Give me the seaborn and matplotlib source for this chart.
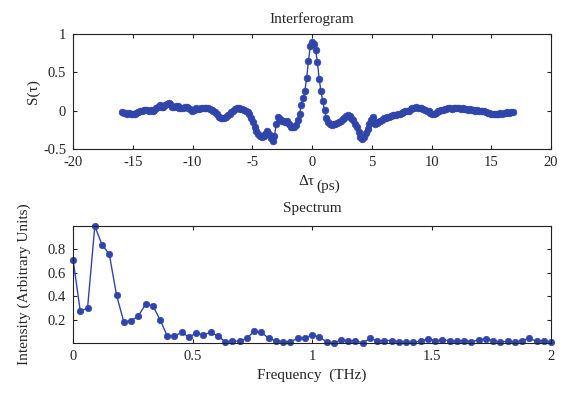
import numpy as np
import pandas as pd
import matplotlib
matplotlib.use("Agg")
import matplotlib.pyplot as plt
import seaborn as sns

# ---------------- data ----------------
delay_start_ps = -15.9
delay_step_ps = 0.15
signal = [
    # -15.9 .. -14.1
    -0.02, -0.03, -0.03, -0.04, -0.03, -0.05, -0.05, -0.04, -0.03, -0.02, -0.01, 0.00, 0.01,
    # -13.95 .. -12.15
    0.01, 0.01, 0.00, 0.01, 0.00, 0.01, 0.03, 0.05, 0.07, 0.05, 0.05, 0.07, 0.09,
    # -12.0 .. -10.2
    0.10, 0.08, 0.05, 0.05, 0.06, 0.06, 0.04, 0.03, 0.04, 0.05, 0.05, 0.04, 0.02,
    # -10.05 .. -8.25
    0.00, 0.01, 0.03, 0.02, 0.02, 0.03, 0.04, 0.04, 0.04, 0.03, 0.02, 0.01, 0.00,
    # -8.1 .. -6.3
    -0.02, -0.05, -0.08, -0.10, -0.10, -0.09, -0.08, -0.06, -0.04, -0.02, 0.00, 0.02, 0.03,
    # -6.15 .. -4.35
    0.03, 0.02, 0.02, 0.01, 0.00, -0.02, -0.04, -0.09, -0.15, -0.22, -0.27, -0.30, -0.33,
    # -4.2 .. -2.4
    -0.34, -0.33, -0.31, -0.27, -0.30, -0.36, -0.40, -0.33, -0.18, -0.08, -0.11, -0.14, -0.13,
    # -2.25 .. -0.45
    -0.15, -0.14, -0.18, -0.21, -0.22, -0.22, -0.19, -0.12, -0.05, 0.07, 0.16, 0.26, 0.43,
    # -0.3, -0.15, 0.0
    0.65, 0.84, 0.90,
    # 0.15 .. 1.95
    0.87, 0.79, 0.63, 0.41, 0.25, 0.12, 0.01, -0.10, -0.15, -0.18, -0.19, -0.18, -0.17,
    # 2.1 .. 3.9
    -0.16, -0.15, -0.13, -0.11, -0.09, -0.07, -0.06, -0.07, -0.09, -0.12, -0.17, -0.22, -0.28,
    # 4.05 .. 5.85
    -0.34, -0.37, -0.34, -0.29, -0.24, -0.18, -0.12, -0.08, -0.17, -0.16, -0.15, -0.14, -0.12,
    # 6.0 .. 7.8
    -0.10, -0.09, -0.08, -0.08, -0.07, -0.06, -0.06, -0.06, -0.05, -0.04, -0.03, -0.02, -0.01,
    # 7.95 .. 9.75
    -0.01, 0.00, 0.02, 0.03, 0.04, 0.05, 0.04, 0.04, 0.03, 0.02, 0.01, 0.00, -0.01,
    # 9.9 .. 11.7
    -0.03, -0.05, -0.05, -0.03, -0.01, 0.00, 0.01, 0.01, 0.02, 0.02, 0.03, 0.03, 0.02,
    # 11.85 .. 13.65
    0.03, 0.03, 0.04, 0.03, 0.02, 0.03, 0.02, 0.02, 0.01, 0.02, 0.01, 0.01, 0.00,
    # 13.8 .. 15.6
    0.01, 0.00, -0.01, 0.00, -0.01, -0.02, -0.03, -0.03, -0.04, -0.05, -0.05, -0.04, -0.04,
    # 15.75 .. 16.8
    -0.03, -0.04, -0.03, -0.03, -0.02, -0.03, -0.02, -0.02,
]
delay = np.round(delay_start_ps + delay_step_ps * np.arange(len(signal)), 2)

freq_step_thz = 1 / 33
intensity = [
    0.71, 0.27, 0.30, 1.00, 0.84, 0.76, 0.41, 0.18, 0.19, 0.23,
    0.33, 0.32, 0.20, 0.06, 0.06, 0.09, 0.05, 0.085, 0.07, 0.09,
    0.06, 0.01, 0.015, 0.015, 0.04, 0.10, 0.09, 0.04, 0.02, 0.01,
    0.01, 0.04, 0.04, 0.07, 0.05, 0.01, 0.00, 0.025, 0.02, 0.02,
    0.00, 0.04, 0.02, 0.02, 0.02, 0.01, 0.01, 0.005, 0.015, 0.035,
    0.02, 0.025, 0.02, 0.015, 0.02, 0.01, 0.025, 0.035, 0.02, 0.005,
    0.015, 0.01, 0.02, 0.04, 0.015, 0.02, 0.005,
]
freq = freq_step_thz * np.arange(len(intensity))

top_xticks = [-20, -15, -10, -5, 0, 5, 10, 15, 20]
top_yticks = [-0.5, 0, 0.5, 1]
bot_xticks = [0, 0.5, 1, 1.5, 2]
bot_yticks = [0.2, 0.4, 0.6, 0.8]

# ---------------- style ----------------
sns.set_style("ticks")
plt.rcParams["font.family"] = ["Liberation Serif", "DejaVu Serif"]
plt.rcParams["xtick.direction"] = "in"
plt.rcParams["ytick.direction"] = "in"
plt.rcParams["xtick.top"] = True
plt.rcParams["ytick.right"] = True

blue = "#3045ab"
fs = 11
tfs = 10.5

fig = plt.figure(figsize=(5.71, 3.96), dpi=100)
ax1 = fig.add_axes([0.128, 0.624, 0.837, 0.290])
ax2 = fig.add_axes([0.128, 0.134, 0.837, 0.295])

df1 = pd.DataFrame({"delay": delay, "S": signal})
sns.lineplot(data=df1, x="delay", y="S", ax=ax1, color=blue, lw=1.0,
             marker="o", markersize=4.8, markeredgecolor=blue, markeredgewidth=0.5,
             estimator=None, sort=False)
ax1.set_xlim(-20, 20)
ax1.set_ylim(-0.5, 1)
ax1.set_xticks(top_xticks)
ax1.set_xticklabels([str(t) for t in top_xticks])
ax1.set_yticks(top_yticks)
ax1.set_yticklabels(["-0.5", "0", "0.5", "1"])
ax1.set_xlabel("")
ax1.set_ylabel("S(τ)", fontsize=fs, labelpad=2)
ax1.set_title("Interferogram", fontsize=fs, pad=8)
ax1.text(0.505, -0.23, "Δτ", transform=ax1.transAxes, ha="right", va="top", fontsize=fs)
ax1.text(0.51, -0.27, "(ps)", transform=ax1.transAxes, ha="left", va="top", fontsize=fs)

df2 = pd.DataFrame({"freq": freq, "I": intensity})
sns.lineplot(data=df2, x="freq", y="I", ax=ax2, color=blue, lw=1.0,
             marker="o", markersize=4.6, markeredgecolor=blue, markeredgewidth=0.5,
             estimator=None, sort=False, clip_on=False)
ax2.set_xlim(0, 2)
ax2.set_ylim(0, 1)
ax2.set_xticks(bot_xticks)
ax2.set_xticklabels(["0", "0.5", "1", "1.5", "2"])
ax2.set_yticks(bot_yticks)
ax2.set_yticklabels(["0.2", "0.4", "0.6", "0.8"])
ax2.set_xlabel("Frequency  (THz)", fontsize=fs, labelpad=4)
ax2.set_ylabel("Intensity (Arbitrary Units)", fontsize=fs, labelpad=12)
ax2.set_title("Spectrum", fontsize=fs, pad=10)

for ax in (ax1, ax2):
    ax.tick_params(labelsize=tfs, length=3, width=0.8, pad=5)
    for s in ax.spines.values():
        s.set_linewidth(0.8)
        s.set_color("#222222")

fig.savefig("out.png", dpi=100)
